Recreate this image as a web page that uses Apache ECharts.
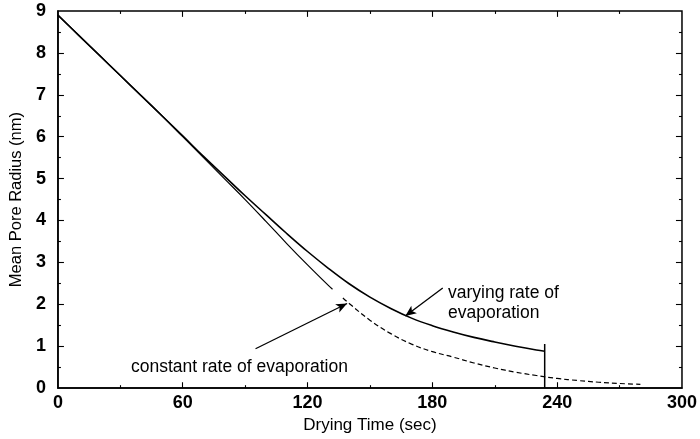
<!DOCTYPE html>
<html>
<head>
<meta charset="utf-8">
<script src="https://cdn.jsdelivr.net/npm/echarts@6/dist/echarts.min.js"></script>
<style>html,body{margin:0;padding:0;background:#fff}#c{width:700px;height:439px}</style>
</head>
<body>
<div id="c"></div>
<script>
// Drying time (sec) and mean pore radius (nm)
const varyingTime   = [0,10,20,30,40,50,60,70,80,90,100,110,120,130,140,150,160,170,180,190,200,210,220,230,234];
const varyingRadius = [8.9,8.42,7.94,7.46,6.98,6.5,6.02,5.53,5.06,4.59,4.14,3.69,3.26,2.86,2.49,2.17,1.9,1.67,1.49,1.34,1.21,1.1,1.0,0.91,0.88];

const constSolidTime   = [0,10,20,30,40,50,60,70,80,90,100,110,120,130,132];
const constSolidRadius = [8.9,8.42,7.94,7.46,6.98,6.5,6.0,5.5,5.0,4.5,3.98,3.45,2.94,2.45,2.36];

const constDashTime   = [137,140,150,160,170,180,190,200,210,220,230,240,250,260,270,280];
const constDashRadius = [2.15,2.02,1.62,1.3,1.05,0.87,0.74,0.6,0.48,0.38,0.3,0.23,0.18,0.14,0.11,0.09];

const endMarkerTime = [234,234];
const endMarkerRadius = [0,1.05];

const xTicks = [0,60,120,180,240,300];
const xMinorTicks = [30,90,150,210,270];
const yTicks = [0,1,2,3,4,5,6,7,8,9];
const yMinorTicks = [0.5,1.5,2.5,3.5,4.5,5.5,6.5,7.5,8.5];

// annotation arrows (data coords: [time, radius])
const arrowConstant = [[95,0.94],[139,2.02]];
const arrowVarying  = [[185,2.39],[167,1.72]];

const zip = (a,b) => a.map((v,i)=>[v,b[i]]);

const font = '"Liberation Sans", Arial, sans-serif';
const chart = echarts.init(document.getElementById('c'));

const arrowLine = (pts) => ({
  type:'line',data:[],silent:true,
  markLine:{silent:true,symbol:['none','arrow'],symbolSize:[7,11],animation:false,
    label:{show:false},lineStyle:{color:'#000',width:1.3,type:'solid'},
    emphasis:{disabled:true},
    data:[[{coord:pts[0]},{coord:pts[1]}]]}
});

// inward tick marks on all four sides, built from the tick arrays
const X_MIN=0, X_MAX=300, Y_MIN=0, Y_MAX=9;
const tickLenY = 0.14, tickLenX = 2.9;   // major tick length in axis units
const tickPairs = [];
function addXTick(v, f){
  tickPairs.push([{coord:[v,Y_MIN]},{coord:[v,Y_MIN+tickLenY*f]}]);
  tickPairs.push([{coord:[v,Y_MAX]},{coord:[v,Y_MAX-tickLenY*f]}]);
}
function addYTick(v, f){
  tickPairs.push([{coord:[X_MIN,v]},{coord:[X_MIN+tickLenX*f,v]}]);
  tickPairs.push([{coord:[X_MAX,v]},{coord:[X_MAX-tickLenX*f,v]}]);
}
xTicks.slice(1,-1).forEach(v=>addXTick(v,1));
xMinorTicks.forEach(v=>addXTick(v,0.5));
yTicks.slice(1,-1).forEach(v=>addYTick(v,1));
yMinorTicks.forEach(v=>addYTick(v,0.5));

const tickSeries = {
  type:'line',data:[],silent:true,
  markLine:{silent:true,symbol:['none','none'],animation:false,label:{show:false},
    lineStyle:{color:'#000',width:1.1,type:'solid'},emphasis:{disabled:true},
    data:tickPairs}
};

chart.setOption({
  animation:false,
  backgroundColor:'#fff',
  grid:{left:56,right:16,top:11,bottom:42,show:true,borderColor:'#000',borderWidth:1.5,backgroundColor:'transparent'},
  xAxis:{
    type:'value',min:X_MIN,max:X_MAX,interval:60,
    axisLine:{show:true,onZero:false,lineStyle:{color:'#000',width:1.5}},
    axisTick:{show:false},splitLine:{show:false},
    name:'Drying Time (sec)',nameLocation:'middle',nameGap:28,
    nameTextStyle:{fontFamily:font,fontSize:17,color:'#000'},
    axisLabel:{fontFamily:font,fontSize:18,fontWeight:'bold',color:'#000',margin:6,
      formatter:v=>xTicks.includes(v)?String(v):''}
  },
  yAxis:{
    type:'value',min:Y_MIN,max:Y_MAX,interval:1,
    axisLine:{show:true,onZero:false,lineStyle:{color:'#000',width:1.5}},
    axisTick:{show:false},splitLine:{show:false},
    name:'Mean Pore Radius (nm)',nameLocation:'middle',nameGap:31,
    nameTextStyle:{fontFamily:font,fontSize:16.5,color:'#000'},
    axisLabel:{fontFamily:font,fontSize:18,fontWeight:'bold',color:'#000',margin:12,
      formatter:v=>yTicks.includes(v)?String(v):''}
  },
  series:[
    {type:'line',data:zip(varyingTime,varyingRadius),showSymbol:false,smooth:0.4,
      lineStyle:{color:'#000',width:1.6}},
    {type:'line',data:zip(constSolidTime,constSolidRadius),showSymbol:false,smooth:0.4,
      lineStyle:{color:'#000',width:1.2}},
    {type:'line',data:zip(constDashTime,constDashRadius),showSymbol:false,smooth:0.4,
      lineStyle:{color:'#000',width:1.2,type:[5,3]}},
    {type:'line',data:zip(endMarkerTime,endMarkerRadius),showSymbol:false,
      lineStyle:{color:'#000',width:1.5}},
    arrowLine(arrowConstant),
    arrowLine(arrowVarying),
    tickSeries
  ],
  graphic:[
    {type:'text',left:448,top:283,style:{text:'varying rate of\nevaporation',font:'17.5px '+font,fill:'#000',lineHeight:20}},
    {type:'text',left:131,top:358,style:{text:'constant rate of evaporation',font:'17.5px '+font,fill:'#000'}}
  ]
});
</script>
</body>
</html>
